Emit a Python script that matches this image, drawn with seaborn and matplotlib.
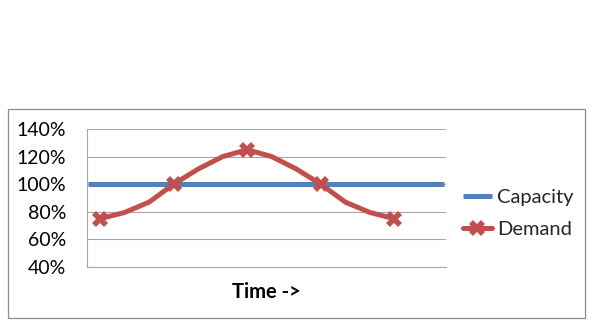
import matplotlib
matplotlib.use("Agg")
import matplotlib.pyplot as plt
import matplotlib.patches as mpatches
import seaborn as sns
import pandas as pd

# ---- data ----
demand_time = [0, 1, 2, 3, 4, 5, 6, 7, 8, 9, 10, 11, 12]
demand_vals = [0.75, 0.795, 0.87, 1.00, 1.11, 1.20, 1.25, 1.20, 1.11, 1.00, 0.87, 0.795, 0.75]
capacity_time = [-0.5, 14.0]
capacity_vals = [1.00, 1.00]
y_ticks = [0.4, 0.6, 0.8, 1.0, 1.2, 1.4]
y_labels = ["40%", "60%", "80%", "100%", "120%", "140%"]
series_names = ["Capacity", "Demand"]
x_title = "Time ->"

BLUE = "#4F81BD"
RED = "#C0504D"

sns.set_theme(style="white")
plt.rcParams["font.family"] = ["Lato", "DejaVu Sans"]

fig = plt.figure(figsize=(5.95, 3.35), dpi=100)
ax = fig.add_axes([87 / 595, 1 - 267 / 335, (446 - 87) / 595, (267 - 129) / 335])

cap_df = pd.DataFrame({"t": capacity_time, "v": capacity_vals})
dem_df = pd.DataFrame({"t": demand_time, "v": demand_vals})

sns.lineplot(data=cap_df, x="t", y="v", ax=ax, color=BLUE, linewidth=3.6,
             label=series_names[0], solid_capstyle="butt")
sns.lineplot(data=dem_df, x="t", y="v", ax=ax, color=RED, linewidth=3.6,
             marker="X", markersize=12, markevery=3, markeredgewidth=0,
             label=series_names[1], solid_joinstyle="round")

ax.set_xlim(-0.53, 14.1)
ax.set_ylim(0.4, 1.4)
ax.set_yticks(y_ticks)
ax.set_yticklabels(y_labels)
ax.set_xticks([])
ax.set_xlabel(x_title, fontsize=14.5, fontweight="bold", color="black", labelpad=10.5)
ax.set_ylabel("")
ax.tick_params(axis="y", length=0, pad=15, labelsize=14, labelcolor="black")

ax.grid(axis="y", color="#a6a6a6", linewidth=0.8)
ax.set_axisbelow(True)
for s in ["top", "right"]:
    ax.spines[s].set_visible(False)
for s in ["left", "bottom"]:
    ax.spines[s].set_color("#a6a6a6")
    ax.spines[s].set_linewidth(0.8)

leg = ax.legend(loc="center left", bbox_to_anchor=(1.047, 0.388), frameon=False,
                borderaxespad=0, borderpad=0,
                fontsize=14.5, handlelength=1.45, handletextpad=0.25, labelspacing=0.7)

# outer chart border
fig.patches.append(mpatches.Rectangle((8 / 595, 1 - 318 / 335), 577 / 595, 209 / 335,
                                      transform=fig.transFigure, fill=False,
                                      edgecolor="#8c8c8c", linewidth=0.9))

fig.savefig("out.png", dpi=100)
